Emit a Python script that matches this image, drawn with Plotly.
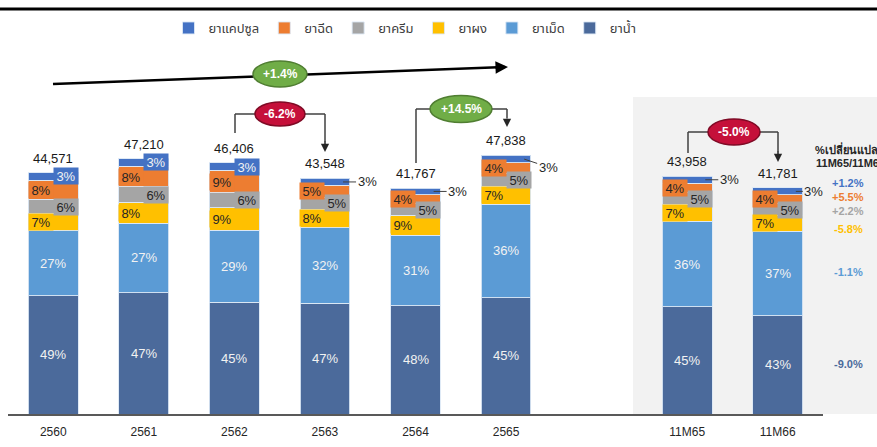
import plotly.graph_objects as go

# ---------------- data ----------------
periods = ["2560", "2561", "2562", "2563", "2564", "2565", "11M65", "11M66"]
positions = [0, 1, 2, 3, 4, 5, 7, 8]
totals = [44571, 47210, 46406, 43548, 41767, 47838, 43958, 41781]

water = [49, 47, 45, 47, 48, 45, 45, 43]      # ยาน้ำ
tablet = [27, 27, 29, 32, 31, 36, 36, 37]     # ยาเม็ด
powder = [7, 8, 9, 8, 9, 7, 7, 7]             # ยาผง
cream = [6, 6, 6, 5, 5, 5, 5, 5]              # ยาครีม
injection = [8, 8, 9, 5, 4, 4, 4, 4]          # ยาฉีด
capsule = [3, 3, 3, 3, 3, 3, 3, 3]            # ยาแคปซูล

change_title = ["%เปลี่ยนแปลง", "11M65/11M66"]
change_capsule, change_injection, change_cream = "+1.2%", "+5.5%", "+2.2%"
change_powder, change_tablet, change_water = "-5.8%", "-1.1%", "-9.0%"

growth_all = "+1.4%"
growth_6263 = "-6.2%"
growth_6465 = "+14.5%"
growth_11m = "-5.0%"

# ---------------- styling ----------------
FONT = "Liberation Sans, Arial, sans-serif"
NARROW = "Liberation Sans Narrow, Arial Narrow, Liberation Sans, sans-serif"
C_CAP, C_INJ, C_CRM = "#4472C4", "#ED7D31", "#A5A5A5"
C_PWD, C_TAB, C_WAT = "#FFC000", "#5B9BD5", "#4B6A9B"
DARK = "#262626"
LIGHT = "#F2F2F2"

W, H = 877, 447
L_M, R_M, B_M = 8, 54, 33
PLOT_W = W - L_M - R_M
PLOT_H = H - B_M
PX_PER_UNIT = 5.41 / 1000.0


def xp(px):
    return (px - L_M) / PLOT_W


def yp(py):
    return (PLOT_H - py) / PLOT_H


series = [
    ("ยาน้ำ", water, C_WAT, 6, "C", LIGHT),
    ("ยาเม็ด", tablet, C_TAB, 5, "C", LIGHT),
    ("ยาผง", powder, C_PWD, 4, "L", DARK),
    ("ยาครีม", cream, C_CRM, 3, "R", DARK),
    ("ยาฉีด", injection, C_INJ, 2, "L", DARK),
    ("ยาแคปซูล", capsule, C_CAP, 1, "R", LIGHT),
]

sums = [sum(s[1][i] for s in series) for i in range(len(periods))]

fig = go.Figure()
annotations = []
shapes = []

leader_dx = {"2563": (24, 0), "2564": (24, 0), "2565": (24, 8), "11M65": (24, 0), "11M66": (18, 0)}

cum = [0.0] * len(periods)
for name, shares, color, rank, pos, tcol in series:
    vals = [totals[i] * shares[i] / sums[i] for i in range(len(periods))]
    fig.add_trace(go.Bar(
        x=positions, y=vals, name=name, width=0.55,
        marker=dict(color=color, line=dict(color="rgba(220,232,245,0.9)", width=1)),
        legendrank=rank, hoverinfo="skip",
    ))
    for i in range(len(periods)):
        mid = cum[i] + vals[i] / 2
        label = f"{shares[i]}%"
        if pos == "C":
            annotations.append(dict(x=positions[i], y=mid, xref="x", yref="y", text=label,
                                    showarrow=False, xanchor="center", yanchor="middle",
                                    font=dict(family=FONT, size=13, color=tcol)))
        elif name == "ยาแคปซูล" and i >= 3:
            ax, ay = leader_dx[periods[i]]
            annotations.append(dict(x=positions[i] + 0.2, y=mid, xref="x", yref="y", text=label,
                                    showarrow=True, arrowhead=0, arrowwidth=1, arrowcolor="#404040",
                                    ax=ax, ay=ay, standoff=0,
                                    font=dict(family=FONT, size=13, color=DARK)))
        else:
            dx = -0.1375 if pos == "L" else 0.1375
            annotations.append(dict(x=positions[i] + dx, y=mid, xref="x", yref="y", text=label,
                                    showarrow=False, bgcolor=color, width=24, height=16, borderpad=0,
                                    xanchor="center", yanchor="middle",
                                    font=dict(family=FONT, size=13, color=tcol)))
        cum[i] += vals[i]

# totals above bars
for i in range(len(periods)):
    annotations.append(dict(x=positions[i], y=totals[i], xref="x", yref="y",
                            text=f"{totals[i]:,}", showarrow=False, xanchor="center",
                            yanchor="bottom", yshift=5,
                            font=dict(family=FONT, size=13, color="#1a1a1a")))

# grey panel on the right
shapes.append(dict(type="rect", xref="paper", yref="paper", x0=xp(633), x1=xp(885),
                   y0=0, y1=yp(97), fillcolor="#F2F2F2", line=dict(width=0), layer="below"))
# top rule
shapes.append(dict(type="line", xref="paper", yref="paper", x0=xp(-5), x1=xp(885),
                   y0=yp(9), y1=yp(9), line=dict(color="black", width=3)))

# long trend arrow
shapes.append(dict(type="line", xref="paper", yref="paper", x0=xp(53), y0=yp(84),
                   x1=xp(498), y1=yp(67.3), line=dict(color="black", width=2.5)))
annotations.append(dict(x=xp(508), y=yp(67), xref="paper", yref="paper", text="",
                        showarrow=True, arrowhead=2, arrowsize=1, arrowwidth=2.5, arrowcolor="black",
                        ax=-14, ay=0.5))


def seg(x0, y0, x1, y1, color="#404040", width=1.5):
    shapes.append(dict(type="line", xref="paper", yref="paper", x0=xp(x0), y0=yp(y0),
                       x1=xp(x1), y1=yp(y1), line=dict(color=color, width=width)))


def down_arrow(x, y_tip, length):
    annotations.append(dict(x=xp(x), y=yp(y_tip), xref="paper", yref="paper", text="",
                            showarrow=True, arrowhead=2, arrowsize=1.1, arrowwidth=1.5,
                            arrowcolor="#262626", ax=0, ay=-length))


def bubble(cx, cy, w, h, text, fill, edge):
    shapes.append(dict(type="circle", xref="paper", yref="paper", x0=xp(cx - w / 2), x1=xp(cx + w / 2),
                       y0=yp(cy + h / 2), y1=yp(cy - h / 2), fillcolor=fill,
                       line=dict(color=edge, width=1.5)))
    annotations.append(dict(x=xp(cx), y=yp(cy), xref="paper", yref="paper", text=f"<b>{text}</b>",
                            showarrow=False, xanchor="center", yanchor="middle",
                            font=dict(family=FONT, size=12, color="white")))


GREEN, GREEN_E = "#70AD47", "#507E32"
RED, RED_E = "#C5103A", "#7F0A25"

# -6.2% bracket
seg(235, 133, 235, 114); seg(235, 114, 258, 114); seg(302, 114, 325, 114); seg(325, 114, 325, 142)
down_arrow(325, 152, 12)
# +14.5% bracket
seg(416, 163, 416, 109); seg(416, 109, 432, 109); seg(490, 109, 507, 109); seg(507, 109, 507, 118)
down_arrow(507, 127, 10)
# -5.0% bracket
seg(688, 153, 688, 132); seg(688, 132, 710, 132); seg(758, 132, 778, 132); seg(778, 132, 778, 152)
down_arrow(778, 162, 12)

bubble(280, 74, 54, 26, growth_all, GREEN, GREEN_E)
bubble(280, 114, 50, 24, growth_6263, RED, RED_E)
bubble(461, 109, 62, 27, growth_6465, GREEN, GREEN_E)
bubble(734, 132, 52, 26, growth_11m, RED, RED_E)

# right-hand change column
annotations.append(dict(x=xp(813), y=yp(149), xref="paper", yref="paper", text=f"<b>{change_title[0]}</b>",
                        showarrow=False, xanchor="left", yanchor="middle",
                        font=dict(family=FONT, size=11, color=DARK)))
annotations.append(dict(x=xp(814), y=yp(163), xref="paper", yref="paper", text=f"<b>{change_title[1]}</b>",
                        showarrow=False, xanchor="left", yanchor="middle",
                        font=dict(family=FONT, size=11, color=DARK)))
for txt, col, py in [(change_capsule, C_CAP, 183), (change_injection, C_INJ, 197),
                     (change_cream, C_CRM, 211), (change_powder, C_PWD, 229),
                     (change_tablet, C_TAB, 272), (change_water, C_WAT, 364)]:
    annotations.append(dict(x=xp(848), y=yp(py), xref="paper", yref="paper", text=f"<b>{txt}</b>",
                            showarrow=False, xanchor="center", yanchor="middle",
                            font=dict(family=FONT, size=11, color=col)))

fig.update_layout(
    width=W, height=H,
    margin=dict(l=L_M, r=R_M, t=0, b=B_M, autoexpand=False),
    barmode="stack",
    paper_bgcolor="white", plot_bgcolor="rgba(0,0,0,0)",
    showlegend=True,
    legend=dict(orientation="h", x=xp(405), xanchor="center", y=yp(13), yanchor="top",
                font=dict(family="Noto Sans Thai, Tahoma, " + FONT, size=13, color="#404040"),
                bgcolor="rgba(0,0,0,0)", traceorder="normal", itemclick=False),
    xaxis=dict(range=[-0.5, 8.5], tickvals=positions, ticktext=periods, showgrid=False,
               zeroline=False, showline=True, linecolor="#595959", linewidth=2,
               ticks="", ticklabelstandoff=6,
               tickfont=dict(family=NARROW, size=12, color=DARK), fixedrange=True),
    yaxis=dict(range=[0, PLOT_H / PX_PER_UNIT], visible=False, fixedrange=True),
    shapes=shapes, annotations=annotations,
)

fig.write_html("out.html", config={"displayModeBar": False},
               post_script="document.body.style.margin='0';document.body.style.overflow='hidden';")
